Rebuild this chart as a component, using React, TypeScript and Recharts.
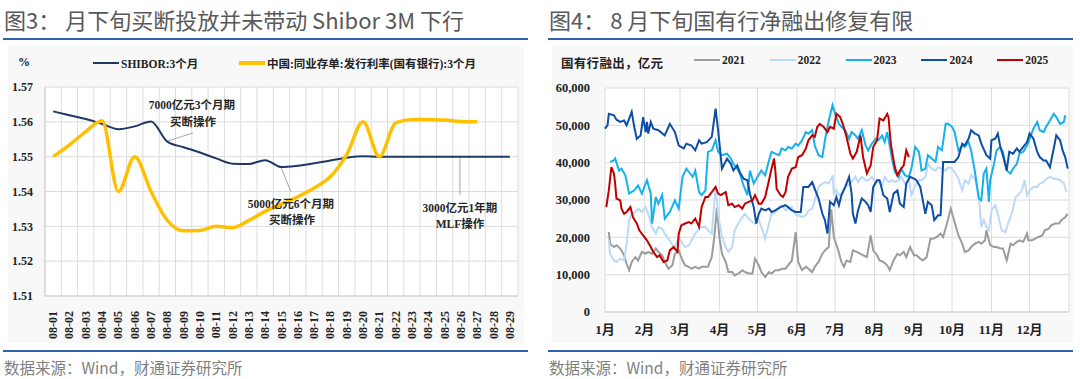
import React from "react";
import {
  LineChart,
  Line,
  XAxis,
  YAxis,
  CartesianGrid,
  ReferenceLine,
  ReferenceDot,
} from "recharts";

// ---------- 图3 data ----------
const dayLabels = [
  "08-01", "08-02", "08-03", "08-04", "08-05", "08-06", "08-07", "08-08", "08-09", "08-10",
  "08-11", "08-12", "08-13", "08-14", "08-15", "08-16", "08-17", "08-18", "08-19", "08-20",
  "08-21", "08-22", "08-23", "08-24", "08-25", "08-26", "08-27", "08-28", "08-29",
];
const shibor3m = [
  1.563, 1.5619, 1.5608, 1.5594, 1.5579, 1.5587, 1.5601, 1.5543, 1.5527, 1.5512,
  1.5495, 1.548, 1.5479, 1.549, 1.547, 1.5474, 1.5481, 1.5489, 1.5497, 1.5501,
  1.55, 1.55, 1.55, 1.55, 1.55, 1.55, 1.55, 1.55, 1.55,
];
const ncdBig4 = [
  1.55, 1.5534, 1.5572, 1.5603, 1.54, 1.55, 1.54, 1.5317, 1.5287, 1.5288,
  1.53, 1.5296, 1.5317, 1.5343, 1.5364, 1.5385, 1.541, 1.5443, 1.5506, 1.56,
  1.55, 1.5597, 1.5607, 1.5607, 1.5605, 1.5601, 1.56, null, null,
];
const rateTicks = [1.51, 1.52, 1.53, 1.54, 1.55, 1.56, 1.57];

// ---------- 图4 data: [day of year, 亿元] ----------
const s2021: [number, number][] = [
  [3, 21400], [4, 18300], [7, 17400], [9, 17900], [12, 17000], [15, 15200], [17, 12900], [19, 11200], [21, 13400], [24, 14700],
  [26, 13800], [29, 16100], [32, 15600], [34, 16100], [37, 15600], [40, 17000], [42, 16100], [45, 15200], [47, 13400], [50, 11600],
  [53, 12500], [55, 15600], [58, 16500], [61, 13800], [63, 12500], [66, 12100], [68, 11600], [71, 12100], [74, 11600], [76, 12100],
  [79, 12100], [81, 12100], [84, 14700], [86, 20100], [88, 28000], [90, 20000], [92, 15600], [95, 13400], [97, 10700], [100, 10700],
  [102, 9800], [105, 10300], [108, 11200], [110, 10700], [113, 10300], [116, 10300], [118, 14300], [121, 12500], [123, 10700], [126, 9400],
  [129, 10700], [131, 10300], [134, 11200], [137, 11200], [139, 11600], [142, 11600], [144, 12500], [147, 13800], [150, 21400], [152, 13400],
  [155, 11200], [158, 12100], [160, 11600], [163, 10700], [165, 12100], [168, 13400], [171, 15600], [173, 16500], [176, 17400], [178, 27500],
  [180, 20100], [183, 17000], [186, 13400], [188, 12100], [190, 13800], [193, 13400], [195, 16500], [198, 16100], [201, 15600], [203, 15200],
  [206, 14700], [209, 20500], [211, 16500], [214, 15200], [216, 13800], [219, 13400], [222, 12500], [224, 11200], [227, 13800], [230, 15600],
  [232, 15200], [235, 16100], [237, 14700], [240, 17400], [243, 15200], [245, 15200], [248, 14300], [250, 13800], [253, 14700], [256, 19600],
  [258, 19600], [261, 20100], [264, 21000], [266, 20100], [269, 23700], [272, 27700], [275, 24100], [278, 20500], [281, 18300], [283, 16100],
  [286, 16500], [288, 17400], [291, 18300], [294, 18800], [296, 18300], [299, 19200], [300, 21900], [303, 17900], [306, 17400], [308, 17400],
  [311, 17000], [313, 17000], [316, 13800], [319, 18300], [321, 17900], [324, 18800], [326, 19200], [329, 18800], [332, 21000], [333, 19200],
  [336, 19200], [338, 19600], [341, 20100], [344, 20500], [346, 21900], [349, 22300], [351, 23200], [354, 23700], [357, 23700], [359, 24600],
  [362, 25400], [364, 26300],
];
const s2022: [number, number][] = [
  [3, 19200], [4, 15600], [7, 13800], [9, 13400], [12, 14300], [15, 13800], [17, 18300], [19, 24600], [21, 26300], [24, 26800],
  [26, 27700], [29, 26800], [32, 28100], [34, 26300], [37, 22800], [40, 21000], [42, 22800], [45, 22300], [47, 21000], [50, 19600],
  [53, 17900], [55, 17400], [58, 20100], [61, 18300], [63, 17400], [66, 17900], [68, 19200], [71, 21000], [74, 22300], [76, 22800],
  [79, 22800], [81, 21900], [84, 21000], [87, 33500], [89, 26300], [92, 20100], [95, 17400], [97, 16100], [100, 17400], [102, 21900],
  [105, 23700], [108, 25400], [110, 26300], [113, 25000], [116, 24100], [118, 23700], [121, 24600], [123, 22800], [126, 19600], [129, 23700],
  [131, 26300], [134, 26800], [137, 28100], [139, 28600], [142, 27200], [144, 27700], [147, 28100], [150, 25900], [152, 25900], [155, 25400],
  [158, 25900], [160, 27200], [163, 27700], [165, 29900], [168, 33500], [169, 33900], [173, 34800], [176, 34400], [179, 36600], [180, 31700],
  [182, 32600], [184, 31300], [186, 31700], [189, 33500], [193, 34400], [197, 36200], [199, 34800], [202, 36200], [205, 35300], [207, 35300],
  [210, 36200], [213, 34400], [215, 35300], [218, 33900], [220, 36200], [223, 34800], [226, 35300], [228, 34800], [231, 35300], [233, 36200],
  [236, 34400], [239, 35300], [241, 31300], [244, 33900], [247, 35300], [249, 35300], [252, 36200], [254, 39700], [257, 38400], [260, 37900],
  [262, 38800], [265, 38400], [268, 37900], [270, 38800], [273, 38400], [275, 37500], [278, 35700], [281, 32600], [283, 35300], [286, 34400],
  [288, 36600], [291, 35700], [294, 31700], [296, 22800], [298, 24600], [300, 22800], [302, 21900], [304, 27200], [307, 28600], [309, 26300],
  [312, 21900], [315, 21400], [317, 23700], [320, 26300], [323, 30800], [325, 31300], [328, 32600], [330, 35300], [332, 31300], [334, 32600],
  [337, 33500], [340, 33500], [342, 34400], [345, 34800], [347, 35700], [350, 36200], [353, 35700], [355, 35700], [358, 35300], [361, 34400],
  [363, 32100],
];
const s2023: [number, number][] = [
  [4, 40200], [7, 40600], [8, 41100], [11, 37900], [13, 38400], [16, 36600], [19, 31700], [23, 32600], [26, 33900], [29, 31700],
  [33, 35300], [36, 31700], [37, 23700], [40, 30800], [42, 29000], [45, 31300], [47, 25000], [51, 26800], [55, 29900], [58, 27700],
  [61, 36200], [64, 38400], [66, 37500], [69, 36200], [71, 37900], [74, 32100], [76, 31300], [79, 32600], [81, 42900], [84, 43300],
  [87, 46000], [89, 42900], [92, 42000], [96, 42400], [99, 41100], [101, 39700], [104, 38400], [106, 37100], [109, 33900], [112, 31300],
  [114, 37900], [117, 34400], [120, 36200], [123, 37900], [126, 36600], [129, 40600], [131, 42900], [134, 42400], [137, 42000], [139, 43800],
  [142, 43300], [144, 44200], [147, 43800], [150, 45100], [152, 44600], [155, 46000], [158, 48200], [160, 47800], [163, 48700], [165, 44600],
  [168, 42000], [171, 41500], [173, 46000], [176, 51300], [179, 55400], [181, 53100], [184, 50400], [186, 49600], [189, 48700], [192, 46400],
  [194, 48200], [197, 47300], [199, 46400], [202, 48700], [205, 44600], [207, 43300], [210, 45100], [213, 46400], [215, 46000], [218, 47300],
  [220, 45500], [222, 48200], [226, 40600], [228, 37500], [231, 36200], [233, 38400], [236, 36600], [239, 36200], [241, 38400], [244, 44200],
  [247, 42900], [249, 37900], [252, 38400], [254, 42000], [257, 41100], [260, 40200], [262, 44200], [265, 43300], [268, 50400], [270, 50400],
  [273, 49600], [275, 48200], [278, 43300], [281, 44600], [283, 44200], [286, 45500], [288, 43300], [291, 37500], [294, 30400], [296, 29900],
  [298, 37100], [300, 38400], [302, 29500], [303, 35300], [306, 39700], [308, 43300], [311, 44200], [313, 42900], [316, 37900], [319, 37100],
  [321, 38400], [324, 39700], [326, 42400], [329, 42900], [332, 44600], [334, 46400], [337, 49100], [340, 50900], [342, 48700], [345, 48200],
  [347, 49600], [350, 51300], [353, 53100], [355, 52200], [358, 50400], [361, 50900], [362, 52700],
];
const s2024: [number, number][] = [
  [0, 49100], [2, 50000], [3, 53100], [7, 52700], [9, 51500], [12, 50900], [15, 51300], [17, 50000], [19, 51800], [21, 53600],
  [23, 49600], [25, 46400], [28, 47300], [30, 52200], [32, 48200], [33, 50900], [34, 47800], [36, 50900], [38, 49100], [42, 48700],
  [47, 47300], [51, 50400], [55, 48200], [58, 44600], [62, 43800], [64, 45100], [68, 44600], [71, 43300], [74, 46000], [76, 45100],
  [80, 45500], [84, 46900], [87, 54500], [89, 48700], [92, 38400], [96, 41100], [99, 39700], [101, 37900], [104, 39300], [106, 37500],
  [109, 35700], [112, 35300], [114, 31700], [117, 28100], [119, 23700], [121, 26300], [123, 27700], [126, 27200], [129, 27700], [131, 26800],
  [134, 27200], [138, 28100], [142, 28600], [144, 28100], [147, 27200], [150, 26800], [154, 26800], [156, 33500], [160, 33500], [163, 34800],
  [165, 33000], [168, 30400], [171, 26300], [173, 24600], [175, 21000], [177, 29500], [180, 28600], [182, 30800], [184, 28600], [186, 31300],
  [189, 33500], [192, 36200], [194, 31700], [195, 26300], [197, 23700], [199, 27200], [202, 30400], [205, 29500], [207, 28600], [209, 26800],
  [211, 33500], [214, 35300], [216, 35300], [219, 31300], [222, 30400], [224, 26800], [227, 31700], [230, 32600], [232, 29000], [235, 28100],
  [237, 34400], [240, 36200], [243, 35700], [245, 35300], [248, 33500], [250, 29900], [252, 26300], [254, 29500], [257, 28600], [259, 24600],
  [262, 25900], [264, 25900], [266, 40200], [270, 40200], [275, 40200], [278, 41500], [281, 45100], [283, 44600], [286, 46400], [288, 48700],
  [291, 47800], [294, 47300], [296, 45100], [300, 42000], [303, 41100], [304, 46000], [307, 46400], [309, 47800], [311, 44200], [313, 42000],
  [316, 37900], [318, 42900], [321, 42400], [324, 43800], [326, 42900], [329, 44200], [332, 45500], [334, 47800], [337, 46400], [340, 42900],
  [342, 41500], [345, 40600], [347, 40600], [350, 38800], [353, 43800], [355, 47300], [358, 46000], [360, 43300], [362, 41500], [364, 38400],
];
const s2025: [number, number][] = [
  [1, 28100], [3, 32600], [5, 38800], [7, 37100], [8, 34400], [9, 30400], [12, 29900], [13, 27700], [15, 26300], [17, 26800],
  [20, 28100], [22, 25400], [25, 23700], [27, 21900], [30, 20500], [33, 19200], [36, 17400], [38, 16100], [41, 14700], [43, 15200],
  [46, 13400], [49, 13800], [51, 16500], [54, 17400], [57, 16100], [58, 21000], [60, 23200], [63, 23700], [66, 24100], [68, 23700],
  [71, 25000], [74, 22800], [76, 28100], [79, 30800], [81, 30800], [84, 32100], [87, 33500], [89, 31700], [91, 31300], [95, 32100],
  [97, 28600], [100, 29000], [102, 28100], [105, 28600], [108, 27700], [110, 29000], [113, 29500], [116, 29900], [118, 31300], [121, 29000],
  [123, 29000], [126, 30800], [129, 35300], [131, 38400], [133, 41100], [134, 37900], [135, 33000], [138, 31300], [140, 30800], [142, 32100],
  [144, 36200], [147, 38400], [150, 38800], [152, 41500], [155, 42000], [158, 43800], [160, 46000], [163, 47300], [165, 46900], [167, 49600],
  [169, 50400], [172, 49600], [175, 48200], [177, 49600], [180, 49100], [182, 53100], [185, 52200], [187, 50400], [190, 46900], [193, 42400],
  [195, 41100], [198, 42900], [201, 47300], [203, 41500], [206, 37100], [209, 39300], [211, 44200], [214, 46000], [216, 51800], [219, 51300],
  [222, 53100], [223, 52200], [225, 44600], [228, 38800], [230, 36600], [232, 37900], [235, 39300], [237, 43300], [239, 41500],
];
const monthStarts = [0, 31, 59, 90, 120, 151, 181, 212, 243, 273, 304, 334];
const monthLabels = ["1月", "2月", "3月", "4月", "5月", "6月", "7月", "8月", "9月", "10月", "11月", "12月"];
const flowTicks = [0, 10000, 20000, 30000, 40000, 50000, 60000];

const yearSeries = [
  { name: "2021", color: "#9c9c9c", pts: s2021 },
  { name: "2022", color: "#bcd9f7", pts: s2022 },
  { name: "2023", color: "#17b0ee", pts: s2023 },
  { name: "2024", color: "#0d4ea6", pts: s2024 },
  { name: "2025", color: "#c00000", pts: s2025 },
];

const NAVY = "#1f3864";
const GOLD = "#ffc000";
const RULE = "#2e62ad";
const SERIF = "'Liberation Serif', 'Times New Roman', 'Noto Sans CJK SC', serif";
const SANS = "'Noto Sans CJK SC', 'Noto Sans', sans-serif";

const rateRows = dayLabels.map((_, i) => ({
  i: i + 1,
  shibor: shibor3m[i],
  ncd: ncdBig4[i],
}));

function DayTick(props: any) {
  const { x, y, payload } = props;
  return (
    <text
      x={x}
      y={y + 13}
      transform={`rotate(-90 ${x} ${y + 13})`}
      textAnchor="end"
      dominantBaseline="central"
      fontFamily={SERIF}
      fontWeight={700}
      fontSize={12}
      fill="#222"
    >
      {dayLabels[payload.value - 1]}
    </text>
  );
}

const noteLabel = (value: string) => ({
  value,
  position: "center" as const,
  fontFamily: SERIF,
  fontWeight: 700,
  fontSize: 11.5,
  fill: "#262626",
});

function Header({ left, text }: { left: number; text: string }) {
  return (
    <>
      <div
        style={{
          position: "absolute",
          left,
          top: 6,
          fontFamily: SANS,
          fontSize: 22,
          lineHeight: "27px",
          color: "#595959",
          whiteSpace: "nowrap",
        }}
      >
        {text}
      </div>
      <div style={{ position: "absolute", left: left - 1, top: 38, width: 525, height: 2, background: RULE }} />
      <div style={{ position: "absolute", left: left - 1, top: 350, width: 525, height: 2, background: RULE }} />
      <div
        style={{
          position: "absolute",
          left,
          top: 356,
          fontFamily: SANS,
          fontSize: 15.5,
          lineHeight: "22px",
          color: "#7f7f7f",
          whiteSpace: "nowrap",
        }}
      >
        数据来源：Wind，财通证券研究所
      </div>
    </>
  );
}

function LegendKey({ left, top, color, thick, label }: any) {
  return (
    <div style={{ position: "absolute", left, top, display: "flex", alignItems: "center", whiteSpace: "nowrap" }}>
      <div style={{ width: 26, height: thick, background: color, marginRight: 2 }} />
      <span style={{ fontFamily: SERIF, fontWeight: 700, fontSize: 11.5, color: "#222" }}>{label}</span>
    </div>
  );
}

export default function App() {
  return (
    <div style={{ position: "absolute", left: 0, top: 0, width: 1080, height: 379, background: "#fff", overflow: "hidden" }}>
      <Header left={4} text="图3： 月下旬买断投放并未带动 Shibor 3M 下行" />
      <Header left={549} text="图4： 8 月下旬国有行净融出修复有限" />

      {/* left chart */}
      <div style={{ position: "absolute", left: 8, top: 46, width: 516, height: 297, background: "#f8f8f8" }} />
      <div style={{ position: "absolute", left: 0, top: 48 }}>
        <LineChart width={530} height={292} data={rateRows} margin={{ top: 39, right: 12, bottom: 0, left: 0 }}>
          <CartesianGrid
            stroke="#dcdcdc"
            fill="#fff"
            verticalCoordinatesGenerator={({ offset }: any) =>
              Array.from({ length: dayLabels.length + 1 }, (_, k) => offset.left + (k * offset.width) / dayLabels.length)
            }
          />
          <XAxis
            dataKey="i"
            type="number"
            domain={[0.5, dayLabels.length + 0.5]}
            ticks={dayLabels.map((_, k) => k + 1)}
            interval={0}
            height={44}
            tickLine={false}
            tickSize={0}
            axisLine={{ stroke: "#cfcfcf" }}
            tick={<DayTick />}
          />
          <YAxis
            type="number"
            domain={[1.51, 1.57]}
            ticks={rateTicks}
            width={45}
            tickLine={false}
            tickSize={0}
            tickMargin={12}
            axisLine={{ stroke: "#cfcfcf" }}
            tickFormatter={(v: number) => v.toFixed(2)}
            tick={{ fontFamily: SERIF, fontWeight: 700, fontSize: 12, fill: "#222" }}
          />
          <ReferenceLine segment={[{ x: 8.04, y: 1.5545 }, { x: 9.57, y: 1.5568 }]} stroke="#a6a6a6" />
          <ReferenceLine segment={[{ x: 14.97, y: 1.547 }, { x: 15.58, y: 1.5399 }]} stroke="#a6a6a6" />
          <ReferenceLine segment={[{ x: 25.94, y: 1.5496 }, { x: 25.94, y: 1.539 }]} stroke="#a6a6a6" />
          <Line type="monotone" dataKey="shibor" stroke={NAVY} strokeWidth={2} dot={false} isAnimationActive={false} />
          <Line type="monotone" dataKey="ncd" stroke={GOLD} strokeWidth={3.5} dot={false} connectNulls={false} isAnimationActive={false} />
          <ReferenceDot x={9.51} y={1.5649} r={0} label={noteLabel("7000亿元3个月期")} />
          <ReferenceDot x={9.57} y={1.56} r={0} label={noteLabel("买断操作")} />
          <ReferenceDot x={15.58} y={1.5364} r={0} label={noteLabel("5000亿元6个月期")} />
          <ReferenceDot x={15.64} y={1.5318} r={0} label={noteLabel("买断操作")} />
          <ReferenceDot x={25.94} y={1.5352} r={0} label={noteLabel("3000亿元1年期")} />
          <ReferenceDot x={25.94} y={1.5306} r={0} label={noteLabel("MLF操作")} />
        </LineChart>
      </div>
      <div style={{ position: "absolute", left: 18, top: 55, fontFamily: SERIF, fontWeight: 700, fontSize: 12, color: "#222" }}>%</div>
      <LegendKey left={93} top={55} color={NAVY} thick={2.5} label="SHIBOR:3个月" />
      <LegendKey left={239} top={55} color={GOLD} thick={4} label="中国:同业存单:发行利率(国有银行):3个月" />

      {/* right chart */}
      <div style={{ position: "absolute", left: 552, top: 46, width: 521, height: 297, background: "#f8f8f8" }} />
      <div style={{ position: "absolute", left: 545, top: 48 }}>
        <LineChart width={530} height={297} margin={{ top: 40, right: 6, bottom: 0, left: 0 }}>
          <CartesianGrid
            stroke="#dcdcdc"
            fill="#fff"
            verticalCoordinatesGenerator={({ offset }: any) =>
              [...monthStarts, 365].map((d) => offset.left + (d / 365) * offset.width)
            }
          />
          <XAxis
            dataKey="d"
            type="number"
            domain={[0, 365]}
            ticks={monthStarts}
            interval={0}
            height={33}
            tickLine={false}
            tickSize={0}
            tickMargin={13}
            axisLine={{ stroke: "#cfcfcf" }}
            tickFormatter={(v: number) => monthLabels[monthStarts.indexOf(v)]}
            tick={{ fontFamily: SERIF, fontWeight: 700, fontSize: 13, fill: "#222" }}
          />
          <YAxis
            type="number"
            domain={[0, 60000]}
            ticks={flowTicks}
            width={60}
            tickLine={false}
            tickSize={0}
            tickMargin={15}
            axisLine={false}
            tickFormatter={(v: number) => v.toLocaleString("en-US")}
            tick={{ fontFamily: SERIF, fontWeight: 700, fontSize: 12.5, fill: "#222" }}
          />
          {yearSeries.map((s) => (
            <Line
              key={s.name}
              data={s.pts.map(([d, v]) => ({ d, v }))}
              dataKey="v"
              type="linear"
              stroke={s.color}
              strokeWidth={2}
              dot={false}
              isAnimationActive={false}
            />
          ))}
        </LineChart>
      </div>
      <div style={{ position: "absolute", left: 561, top: 53, fontFamily: SANS, fontWeight: 700, fontSize: 12.5, color: "#222", letterSpacing: 0.3 }}>
        国有行融出，亿元
      </div>
      {yearSeries.map((s, k) => (
        <LegendKey key={s.name} left={694 + k * 75.8} top={54} color={s.color} thick={2.5} label={s.name} />
      ))}
    </div>
  );
}
